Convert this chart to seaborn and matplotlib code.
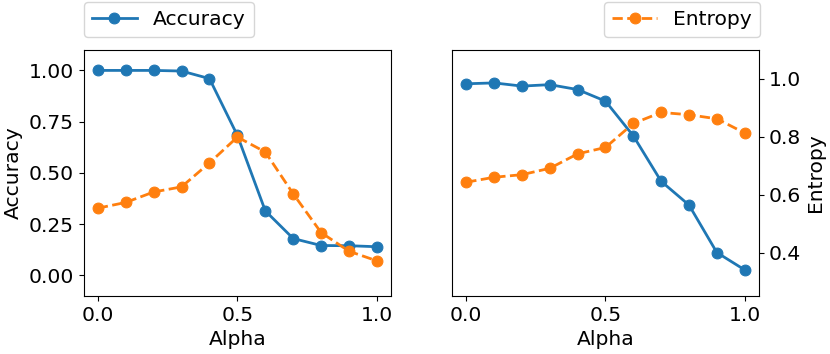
import numpy as np
import pandas as pd
import seaborn as sns
import matplotlib
matplotlib.use("Agg")
import matplotlib.pyplot as plt

alpha = [0.0, 0.1, 0.2, 0.3, 0.4, 0.5, 0.6, 0.7, 0.8, 0.9, 1.0]
# left panel
acc_left = [1.00, 1.00, 1.00, 0.997, 0.96, 0.683, 0.315, 0.18, 0.146, 0.145, 0.14]
ent_left = [0.328, 0.356, 0.407, 0.432, 0.549, 0.675, 0.602, 0.398, 0.209, 0.118, 0.071]
# right panel
acc_right = [0.983, 0.986, 0.975, 0.980, 0.963, 0.923, 0.803, 0.646, 0.564, 0.400, 0.340]
ent_right = [0.643, 0.660, 0.669, 0.691, 0.741, 0.763, 0.846, 0.884, 0.876, 0.862, 0.813]

df_left = pd.DataFrame({"Alpha": alpha, "Accuracy": acc_left, "Entropy": ent_left})
df_right = pd.DataFrame({"Alpha": alpha, "Accuracy": acc_right, "Entropy": ent_right})

plt.rcParams["font.family"] = ["DejaVu Sans"]
fs = 14.6
plt.rcParams["font.size"] = fs
plt.rcParams["axes.labelsize"] = fs
plt.rcParams["xtick.labelsize"] = fs
plt.rcParams["ytick.labelsize"] = fs
plt.rcParams["legend.fontsize"] = fs

blue = "#1f77b4"
orange = "#ff7f0e"
style = dict(marker="o", markersize=7.8, lw=2.0)

fig = plt.figure(figsize=(8.3, 3.54), dpi=100)
ax1 = fig.add_axes([0.101, 0.164, 0.370, 0.695])
ax2 = fig.add_axes([0.545, 0.164, 0.369, 0.695])

sns.lineplot(data=df_left, x="Alpha", y="Accuracy", ax=ax1, color=blue,
             mec=blue, label="Accuracy", **style)
sns.lineplot(data=df_left, x="Alpha", y="Entropy", ax=ax1, color=orange,
             mec=orange, linestyle="--", **style)
ax1.set_ylim(-0.1, 1.1)
ax1.set_yticks([0.0, 0.25, 0.5, 0.75, 1.0])
ax1.set_xticks([0.0, 0.5, 1.0])
ax1.set_ylabel("Accuracy")
ax1.set_xlabel("Alpha")
ax1.legend(loc="lower left", bbox_to_anchor=(0, 1.053), borderaxespad=0,
           handlelength=2.2)

sns.lineplot(data=df_right, x="Alpha", y="Accuracy", ax=ax2, color=blue,
             mec=blue, **style)
sns.lineplot(data=df_right, x="Alpha", y="Entropy", ax=ax2, color=orange,
             mec=orange, linestyle="--", label="Entropy", **style)
ax2.set_ylim(0.25, 1.1)
ax2.set_yticks([0.4, 0.6, 0.8, 1.0])
ax2.set_xticks([0.0, 0.5, 1.0])
ax2.yaxis.tick_right()
ax2.yaxis.set_label_position("right")
ax2.set_ylabel("Entropy")
ax2.set_xlabel("Alpha")
ax2.legend(loc="lower right", bbox_to_anchor=(1.005, 1.053), borderaxespad=0,
           handlelength=2.2)

fig.savefig("out.png", dpi=100)
